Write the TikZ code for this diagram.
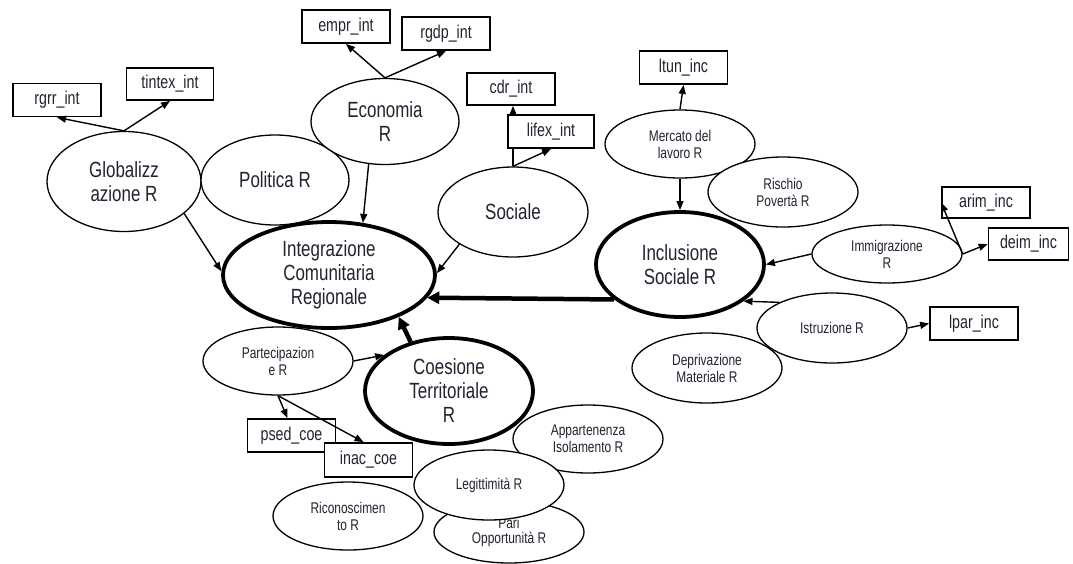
\documentclass[tikz,border=0pt]{standalone}
\usepackage{fontspec}
\setmainfont{Liberation Sans}[FakeStretch=0.77]
\usetikzlibrary{shapes.geometric,arrows.meta,backgrounds}
\definecolor{ink}{RGB}{40,32,48}
\begin{document}
\begin{tikzpicture}[x=1pt,y=-1pt,
  every node/.style={text=ink, align=center, inner sep=0pt},
  var/.style={ellipse, draw, fill=white, line width=1.3pt,
    minimum width=150pt, minimum height=68pt,
    font=\fontsize{15.5}{17}\selectfont},
  midvar/.style={var, font=\fontsize{22}{24}\selectfont},
  bigvar/.style={var, line width=3.8pt, font=\fontsize{22}{24}\selectfont},
  ind/.style={rectangle, draw, fill=white, line width=1.8pt,
    minimum width=88pt, minimum height=33pt,
    font=\fontsize{18.5}{20}\selectfont},
  link/.style={line width=1.4pt, -{Triangle[length=9pt,width=7pt]}},
  mainlink/.style={line width=4.5pt, -{Triangle[length=12pt,width=12pt]}}
]
\useasboundingbox (0,0) rectangle (1073,563);

% indicator boxes
\node[ind] (rgrr)   at (57,100)    {rgrr\_int};
\node[ind, minimum width=87pt, minimum height=32pt] (tintex) at (170,84) {tintex\_int};
\node[ind] (empr)   at (346,26.5)  {empr\_int};
\node[ind] (rgdp)   at (446,33.5)  {rgdp\_int};
\node[ind, minimum height=32pt] (cdr) at (511,89) {cdr\_int};
\node[ind, minimum width=86pt] (lifex) at (551,131.5) {lifex\_int};
\node[ind] (ltun)   at (683.5,67.5) {ltun\_inc};
\node[ind, minimum height=31pt] (arim) at (986,202.5) {arim\_inc};
\node[ind, minimum width=80pt, minimum height=32pt] (deim) at (1028.5,244) {deim\_inc};
\node[ind] (lpar)   at (974,323.5) {lpar\_inc};
\node[ind] (psed)   at (291.5,435.5) {psed\_coe};
\node[ind, minimum height=34pt] (inac) at (368.5,460) {inac\_coe};

% first-order latent variables (integration side)
\node[midvar, minimum width=154pt, minimum height=100pt] (glob) at (124,181.5) {Globalizz\\azione R};
\node[midvar, minimum width=148pt, minimum height=90pt] (polit) at (275,180) {Politica R};
\node[midvar, minimum width=148pt, minimum height=86pt] (econ) at (385,121.5) {Economia\\R};
\node[midvar, minimum height=90pt] (soc) at (513,212) {Sociale};

% inclusion side
\node[var] (merc) at (680,144) {Mercato del\\lavoro R};
\node[var, minimum height=70pt] (risch) at (783,192) {Rischio\\Povertà R};
\node[var, minimum height=58pt] (immig) at (887,254) {Immigrazione\\R};
\node[var, minimum height=70pt] (depr) at (707,368) {Deprivazione\\Materiale R};
\node[var, minimum height=70pt] (istr) at (832,328) {Istruzione R};

% cohesion side
\node[var] (part) at (278,361) {Partecipazion\\e R};
\node[var] (appart) at (588,439) {Appartenenza\\Isolamento R};
\node[var, minimum height=62pt] (pari) at (509,532) {\raisebox{3pt}{\shortstack{Pari\\Opportunità R}}};
\node[var, minimum height=70pt] (legit) at (489,485) {Legittimità R};
\node[var] (ricon) at (348,516) {Riconoscimen\\to R};

% second-order constructs
\node[bigvar, minimum width=212pt, minimum height=106pt] (integ) at (329,275) {Integrazione\\Comunitaria\\Regionale};
\node[bigvar, minimum width=168pt, minimum height=105pt] (incl) at (680,264.5) {Inclusione\\Sociale R};
\node[bigvar, minimum width=168pt, minimum height=106pt] (coes) at (449,391) {Coesione\\Territoriale\\R};

% loading that runs behind the lifex box
\begin{scope}[on background layer]
  \draw[link] (soc.north) -- (soc.north |- cdr.south);
\end{scope}

% loadings
\draw[link] (glob.north) -- (rgrr.south);
\draw[link] (glob.north) -- (tintex.south);
\draw[link] (econ.north) -- (empr.south);
\draw[link] (econ.north) -- (rgdp.south);
\draw[link] (soc.north) -- (lifex.south);
\draw[link] (merc.north) -- (ltun.south);
\draw[link] (immig.east) -- (arim.west);
\draw[link] (immig.east) -- (deim.west);
\draw[link] (istr.east) -- (lpar.west);
\draw[link] (part.south) -- ([xshift=-4pt]psed.north);
\draw[link] (part.south) -- ([xshift=-5pt]inac.north);

% structural paths
\draw[link] (glob.-28) -- (integ.178);
\draw[link] (econ.249) -- (integ.57);
\draw[link] (soc.211) -- (integ.1);
\draw[link] (merc.south) -- (merc.south |- incl.north);
\draw[link] (immig.west) -- (incl.east);
\draw[link] (istr.154) -- (incl.-30);
\draw[link] (part.east) -- (coes.151);
\draw[mainlink] (incl.208) -- (integ.-13.5);
\draw[mainlink] (coes.128) -- (integ.-31);
\end{tikzpicture}
\end{document}
